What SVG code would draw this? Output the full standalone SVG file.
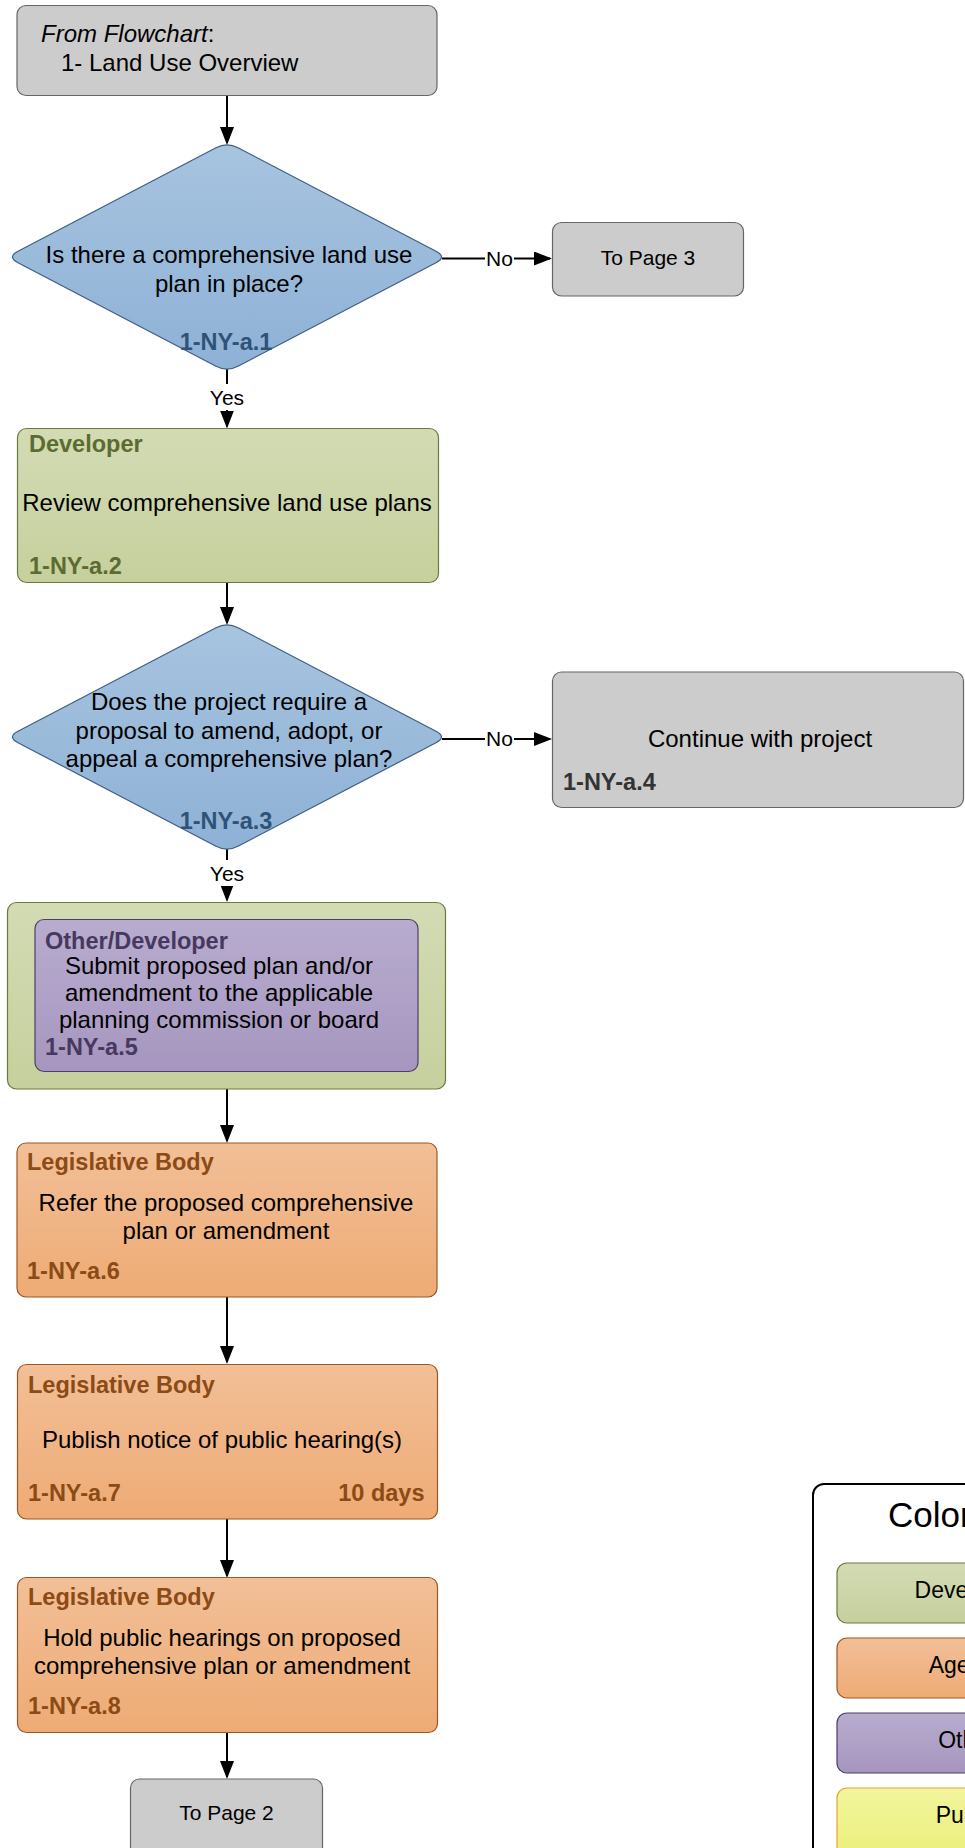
<svg xmlns="http://www.w3.org/2000/svg" width="965" height="1848" viewBox="0 0 965 1848">
<defs>
<linearGradient id="gBlue" x1="0" y1="0" x2="0" y2="1"><stop offset="0" stop-color="#a7c4df"/><stop offset="1" stop-color="#8eb1d6"/></linearGradient>
<linearGradient id="gGreen" x1="0" y1="0" x2="0" y2="1"><stop offset="0" stop-color="#d3dbb4"/><stop offset="1" stop-color="#c6d09d"/></linearGradient>
<linearGradient id="gOrange" x1="0" y1="0" x2="0" y2="1"><stop offset="0" stop-color="#f2bf97"/><stop offset="1" stop-color="#eeab75"/></linearGradient>
<linearGradient id="gPurple" x1="0" y1="0" x2="0" y2="1"><stop offset="0" stop-color="#b8accf"/><stop offset="1" stop-color="#a696bf"/></linearGradient>
<linearGradient id="gYellow" x1="0" y1="0" x2="0" y2="1"><stop offset="0" stop-color="#f2f59c"/><stop offset="1" stop-color="#ebef7c"/></linearGradient>
<marker id="arr" markerUnits="userSpaceOnUse" markerWidth="18" markerHeight="14" refX="16" refY="7" orient="auto"><path d="M0,0 L18,7 L0,14 Z" fill="#000"/></marker>
</defs>
<style>
text{font-family:"Liberation Sans",Arial,sans-serif;}
.t{font-size:24px;fill:#000;}
.b{font-size:23.5px;font-weight:bold;}
.s{font-size:21px;fill:#000;}
.c{text-anchor:middle;}
.gray{fill:#cccccc;stroke:#666666;stroke-width:1.2;}
.blue{fill:url(#gBlue);stroke:#3d5f86;stroke-width:1.2;}
.green{fill:url(#gGreen);stroke:#6b7b3c;stroke-width:1.2;}
.orange{fill:url(#gOrange);stroke:#a0561f;stroke-width:1.2;}
.purple{fill:url(#gPurple);stroke:#4b3e6b;stroke-width:1.2;}
.yellow{fill:url(#gYellow);stroke:#e3a335;stroke-width:1.2;}
.idb{fill:#2f5377;}
.idg{fill:#5c6b30;}
.ido{fill:#8c4a15;}
.idp{fill:#47385f;}
.idk{fill:#333333;}
.ln{stroke:#000;stroke-width:2;fill:none;marker-end:url(#arr);}
.lbg{fill:#ffffff;}
</style>

<g id="connectors">
<line class="ln" x1="227" y1="96" x2="227" y2="143"/>
<line class="ln" x1="442" y1="258.5" x2="550" y2="258.5"/>
<rect class="lbg" x="485" y="246" width="29" height="23"/>
<text class="s c" x="499.5" y="266">No</text>
<line class="ln" x1="227" y1="369" x2="227" y2="426.5"/>
<rect class="lbg" x="207" y="384" width="40" height="26"/>
<text class="s c" x="227" y="405">Yes</text>
<line class="ln" x1="227" y1="583" x2="227" y2="623"/>
<line class="ln" x1="442" y1="739" x2="550" y2="739"/>
<rect class="lbg" x="485" y="727" width="29" height="23"/>
<text class="s c" x="499.5" y="746">No</text>
<line class="ln" x1="227" y1="849" x2="227" y2="900"/>
<rect class="lbg" x="207" y="860" width="40" height="26"/>
<text class="s c" x="227" y="881">Yes</text>
<line class="ln" x1="227" y1="1089" x2="227" y2="1141"/>
<line class="ln" x1="227" y1="1297" x2="227" y2="1362"/>
<line class="ln" x1="227" y1="1519" x2="227" y2="1576"/>
<line class="ln" x1="227" y1="1732" x2="227" y2="1777"/>
</g>

<g id="node-start">
<rect class="gray" x="17" y="5.5" width="420" height="90" rx="9"/>
<text class="t" x="41" y="41.5"><tspan font-style="italic">From Flowchart</tspan>:</text>
<text class="t" x="61" y="70.5">1- Land Use Overview</text>
</g>

<g id="node-a1">
<path class="blue" d="M238,147.75 L436,251.25 Q447,257 436,262.75 L238,366.25 Q227,372 216,366.25 L18,262.75 Q7,257 18,251.25 L216,147.75 Q227,142 238,147.75 Z"/>
<text class="t c" x="229" y="263">Is there a comprehensive land use</text>
<text class="t c" x="229" y="292">plan in place?</text>
<text class="b c idb" x="226" y="350">1-NY-a.1</text>
</g>

<g id="node-page3">
<rect class="gray" x="552.5" y="222.5" width="191" height="73.5" rx="9"/>
<text class="s c" x="648" y="264.5">To Page 3</text>
</g>

<g id="node-a2">
<rect class="green" x="17.5" y="428.5" width="421" height="154" rx="9"/>
<text class="b idg" x="29" y="452">Developer</text>
<text class="t c" x="227" y="511">Review comprehensive land use plans</text>
<text class="b idg" x="29" y="573.5">1-NY-a.2</text>
</g>

<g id="node-a3">
<path class="blue" d="M238,627.75 L436,731.25 Q447,737 436,742.75 L238,846.25 Q227,852 216,846.25 L18,742.75 Q7,737 18,731.25 L216,627.75 Q227,622 238,627.75 Z"/>
<text class="t c" x="229" y="710">Does the project require a</text>
<text class="t c" x="229" y="739">proposal to amend, adopt, or</text>
<text class="t c" x="229" y="767">appeal a comprehensive plan?</text>
<text class="b c idb" x="226" y="829">1-NY-a.3</text>
</g>

<g id="node-a4">
<rect class="gray" x="552.5" y="672" width="411" height="135.5" rx="9"/>
<text class="t c" x="760" y="747">Continue with project</text>
<text class="b idk" x="563" y="790">1-NY-a.4</text>
</g>

<g id="node-a5">
<rect class="green" x="7.5" y="902.5" width="438" height="186.5" rx="9"/>
<rect class="purple" x="35" y="919.5" width="383" height="152" rx="9"/>
<text class="b idp" x="45" y="948.5">Other/Developer</text>
<text class="t c" x="219" y="973.5">Submit proposed plan and/or</text>
<text class="t c" x="219" y="1000.5">amendment to the applicable</text>
<text class="t c" x="219" y="1027.5">planning commission or board</text>
<text class="b idp" x="45" y="1054.5">1-NY-a.5</text>
</g>

<g id="node-a6">
<rect class="orange" x="17" y="1143" width="420" height="154" rx="9"/>
<text class="b ido" x="27" y="1170">Legislative Body</text>
<text class="t c" x="226" y="1211">Refer the proposed comprehensive</text>
<text class="t c" x="226" y="1239">plan or amendment</text>
<text class="b ido" x="27" y="1278.5">1-NY-a.6</text>
</g>

<g id="node-a7">
<rect class="orange" x="17.5" y="1364.5" width="420" height="154.5" rx="9"/>
<text class="b ido" x="28" y="1392.5">Legislative Body</text>
<text class="t c" x="222" y="1447.5">Publish notice of public hearing(s)</text>
<text class="b ido" x="28" y="1500.5">1-NY-a.7</text>
<text class="b ido" x="424.5" y="1500.5" text-anchor="end">10 days</text>
</g>

<g id="node-a8">
<rect class="orange" x="17.5" y="1577.5" width="420" height="155" rx="9"/>
<text class="b ido" x="28" y="1605">Legislative Body</text>
<text class="t c" x="222" y="1646">Hold public hearings on proposed</text>
<text class="t c" x="222" y="1674">comprehensive plan or amendment</text>
<text class="b ido" x="28" y="1714">1-NY-a.8</text>
</g>

<g id="node-page2">
<rect class="gray" x="130.5" y="1779" width="192" height="80" rx="9"/>
<text class="s c" x="226.5" y="1820">To Page 2</text>
</g>

<g id="legend">
<rect x="813" y="1484" width="300" height="420" rx="11" fill="#ffffff" stroke="#000" stroke-width="2"/>
<text x="888" y="1527" font-size="35" fill="#000">Color Key</text>
<rect class="green" x="837" y="1563" width="260" height="60" rx="10"/>
<text class="c" x="967" y="1598" font-size="23" fill="#000">Developer</text>
<rect class="orange" x="837" y="1638" width="260" height="60" rx="10"/>
<text class="c" x="967" y="1673" font-size="23" fill="#000">Agency</text>
<rect class="purple" x="837" y="1713" width="260" height="60" rx="10"/>
<text class="c" x="967" y="1748" font-size="23" fill="#000">Other</text>
<rect class="yellow" x="837" y="1788" width="260" height="70" rx="10"/>
<text class="c" x="967" y="1823" font-size="23" fill="#000">Public</text>
</g>
</svg>
